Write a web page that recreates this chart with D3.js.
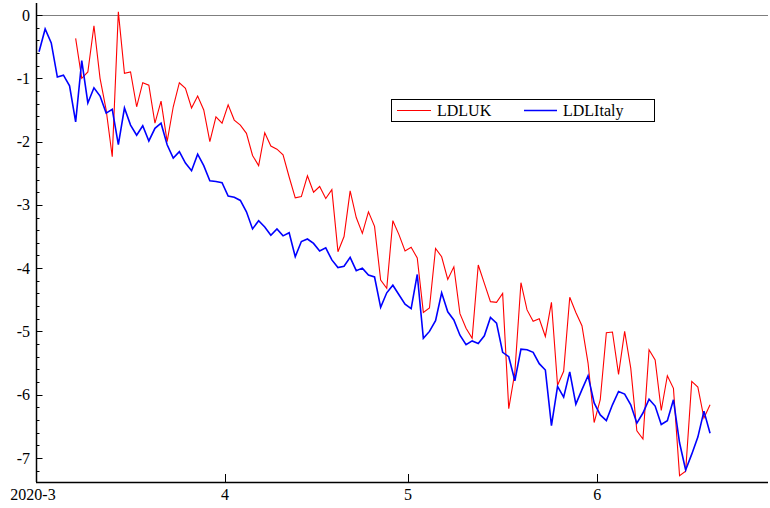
<!DOCTYPE html>
<html>
<head>
<meta charset="utf-8">
<script src="https://cdnjs.cloudflare.com/ajax/libs/d3/7.8.5/d3.min.js"></script>
<style>
  html, body { margin: 0; padding: 0; background: #fff; }
  svg { display: block; }
  text { font-family: "Liberation Serif", "Times New Roman", serif; font-size: 16px; fill: #000; }
</style>
</head>
<body>
<svg id="chart" width="770" height="508"></svg>
<script>
// ---- data ----
const seriesNames = ["LDLUK", "LDLItaly"];
const seriesColors = ["#ff0000", "#0000ff"];
const firstDate = "2020-03-01";           // first daily observation (LDLItaly)
const ukStartIndex = 6;                   // LDLUK starts 2020-03-07

const italyValues = [
  -0.58, -0.22, -0.44, -0.98, -0.95, -1.12, -1.69, -0.72, -1.39, -1.15,
  -1.28, -1.55, -1.49, -2.05, -1.47, -1.74, -1.90, -1.75, -1.99, -1.79,
  -1.71, -2.05, -2.26, -2.16, -2.34, -2.46, -2.20, -2.38, -2.62, -2.63,
  -2.65, -2.86, -2.88, -2.93, -3.11, -3.38, -3.25, -3.35, -3.48, -3.38,
  -3.49, -3.44, -3.82, -3.58, -3.54, -3.61, -3.73, -3.68, -3.87, -3.99,
  -3.97, -3.83, -4.04, -4.00, -4.11, -4.14, -4.62, -4.39, -4.27, -4.42,
  -4.57, -4.64, -4.10, -5.11, -5.00, -4.83, -4.39, -4.69, -4.82, -5.06,
  -5.21, -5.15, -5.19, -5.07, -4.78, -4.87, -5.33, -5.40, -5.78, -5.28,
  -5.29, -5.33, -5.51, -5.61, -6.49, -5.87, -6.04, -5.64, -6.15, -5.92,
  -5.70, -6.13, -6.32, -6.41, -6.16, -5.95, -5.99, -6.16, -6.45, -6.29,
  -6.07, -6.18, -6.47, -6.41, -6.08, -6.76, -7.19, -6.94, -6.67, -6.26,
  -6.61
];

const ukValues = [
  -0.37, -1.00, -0.90, -0.17, -1.00, -1.50, -2.24, 0.05, -0.92,
  -0.90, -1.45, -1.07, -1.11, -1.71, -1.36, -2.00, -1.45, -1.07, -1.16,
  -1.47, -1.28, -1.50, -2.00, -1.61, -1.71, -1.42, -1.66, -1.74, -1.87,
  -2.22, -2.38, -1.86, -2.07, -2.12, -2.21, -2.56, -2.89, -2.87, -2.54,
  -2.80, -2.71, -2.90, -2.76, -3.74, -3.50, -2.78, -3.20, -3.45, -3.11,
  -3.34, -4.19, -4.32, -3.25, -3.47, -3.73, -3.67, -3.84, -4.70, -4.63,
  -3.69, -3.82, -4.18, -3.98, -4.72, -4.95, -5.11, -3.95, -4.24, -4.53,
  -4.54, -4.40, -6.22, -5.65, -4.23, -4.66, -4.84, -4.80, -5.08, -4.54,
  -5.85, -5.63, -4.46, -4.70, -4.91, -5.50, -6.44, -6.08, -5.02, -5.01,
  -5.68, -5.00, -5.58, -6.57, -6.70, -5.29, -5.45, -6.25, -5.70, -5.90,
  -7.28, -7.21, -5.79, -5.88, -6.37, -6.16
];

const xTickDates = ["2020-03-01", "2020-04-01", "2020-05-01", "2020-06-01"];
const xTickLabels = ["2020-3", "4", "5", "6"];
const yTickValues = [0, -1, -2, -3, -4, -5, -6, -7];

// ---- layout ----
const svg = d3.select("#chart");
const plotLeft = 36, plotRight = 768, plotTop = 3, plotBottom = 482;
const parse = d3.utcParse("%Y-%m-%d");
const start = parse(firstDate);

const x = d3.scaleUtc()
  .domain([start, d3.utcDay.offset(start, 120)])
  .range([plotLeft, plotRight]);
const y = d3.scaleLinear().domain([-7.38, 0.19]).range([plotBottom, plotTop]);

// observation date placed at mid-day (period centre)
const obsDate = i => d3.utcHour.offset(d3.utcDay.offset(start, i), 12);

const italyData = italyValues.map((v, i) => ({ d: obsDate(i), v }));
const ukData = ukValues.map((v, i) => ({ d: obsDate(i + ukStartIndex), v }));

// zero line
svg.append("line")
  .attr("x1", plotLeft).attr("x2", plotRight)
  .attr("y1", Math.round(y(0)) + 0.5).attr("y2", Math.round(y(0)) + 0.5)
  .attr("stroke", "#7f7f7f").attr("stroke-width", 1);

const line = d3.line().x(d => x(d.d)).y(d => y(d.v));

svg.append("path").datum(ukData)
  .attr("d", line).attr("fill", "none")
  .attr("stroke", seriesColors[0]).attr("stroke-width", 1.1)
  .attr("stroke-linejoin", "miter");

svg.append("path").datum(italyData)
  .attr("d", line).attr("fill", "none")
  .attr("stroke", seriesColors[1]).attr("stroke-width", 1.6)
  .attr("stroke-linejoin", "miter");

// y axis
const yAxis = svg.append("g");
yAxis.append("line")
  .attr("x1", plotLeft + 0.5).attr("x2", plotLeft + 0.5)
  .attr("y1", plotTop).attr("y2", plotBottom)
  .attr("stroke", "#000").attr("stroke-width", 1.5);

const minorVals = d3.range(-36, 1).map(i => i * 0.2).filter(v => Math.abs(v - Math.round(v)) > 1e-6);
yAxis.selectAll(".minor").data(minorVals).enter().append("line")
  .attr("x1", plotLeft).attr("x2", plotLeft + 3.5)
  .attr("y1", d => Math.round(y(d)) + 0.5).attr("y2", d => Math.round(y(d)) + 0.5)
  .attr("stroke", "#000").attr("stroke-width", 1);
yAxis.selectAll(".major").data(yTickValues).enter().append("line")
  .attr("x1", plotLeft).attr("x2", plotLeft + 6.5)
  .attr("y1", d => Math.round(y(d)) + 0.5).attr("y2", d => Math.round(y(d)) + 0.5)
  .attr("stroke", "#000").attr("stroke-width", 1);
yAxis.selectAll("text").data(yTickValues).enter().append("text")
  .attr("x", 30).attr("y", d => y(d)).attr("dy", "0.35em")
  .attr("text-anchor", "end")
  .text(d => String(d));

// x axis
const xAxis = svg.append("g");
xAxis.append("line")
  .attr("x1", plotLeft).attr("x2", plotRight)
  .attr("y1", plotBottom + 0.5).attr("y2", plotBottom + 0.5)
  .attr("stroke", "#000").attr("stroke-width", 1.5);
const xTicks = xTickDates.map((d, i) => ({ d: parse(d), label: xTickLabels[i] }));
xAxis.selectAll(".tick").data(xTicks).enter().append("line")
  .attr("x1", d => Math.round(x(d.d)) + 0.5).attr("x2", d => Math.round(x(d.d)) + 0.5)
  .attr("y1", plotBottom).attr("y2", plotBottom - 8)
  .attr("stroke", "#000").attr("stroke-width", 1);
xAxis.selectAll("text").data(xTicks).enter().append("text")
  .attr("x", (d, i) => x(d.d) - (i === 0 ? 3 : 0))
  .attr("y", 500)
  .attr("text-anchor", "middle")
  .text(d => d.label);

// legend
const lg = svg.append("g");
lg.append("rect")
  .attr("x", 391.5).attr("y", 99.5).attr("width", 263).attr("height", 22)
  .attr("fill", "#fff").attr("stroke", "#000").attr("stroke-width", 1);
const legendItems = [
  { x0: 397, x1: 431, tx: 437 },
  { x0: 524, x1: 557, tx: 563 }
];
legendItems.forEach((it, i) => {
  lg.append("line")
    .attr("x1", it.x0).attr("x2", it.x1).attr("y1", 110.5).attr("y2", 110.5)
    .attr("stroke", seriesColors[i]).attr("stroke-width", i === 0 ? 1.1 : 1.6);
  lg.append("text").attr("x", it.tx).attr("y", 116).text(seriesNames[i]);
});
</script>
</body>
</html>
